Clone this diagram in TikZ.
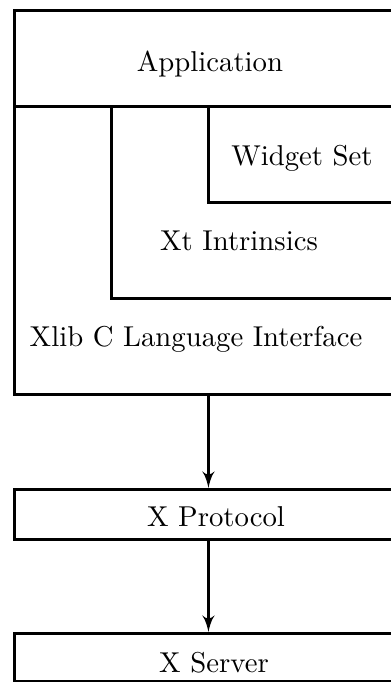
\documentclass[tikz,border=0pt]{standalone}
\usepackage{tikz}
\usetikzlibrary{arrows,positioning}
\newlength{\pxu}
\setlength{\pxu}{0.348pt}
\tikzstyle{layer}=[draw, line width=1pt, anchor=north west, inner sep=0pt]
\tikzstyle{lbl}=[inner sep=0pt, font=\normalsize]
\tikzstyle{line}=[draw, line width=1pt, -latex']

\begin{document}
\begin{tikzpicture}[x=0.348pt, y=-0.348pt]
	\clip (0,0) rectangle (391,682);

	% Draw the stacked layers
	\node[layer, minimum width=388\pxu, minimum height=96\pxu] (app) at (13,9) {};
	\node[layer, minimum width=388\pxu, minimum height=288\pxu] (xlib) at (13,105) {};
	\node[layer, minimum width=291\pxu, minimum height=192\pxu] (xt) at (110,105) {};
	\node[layer, minimum width=194\pxu, minimum height=96\pxu] (widget) at (207,105) {};
	\node[layer, minimum width=388\pxu, minimum height=50\pxu] (proto) at (13,488) {};
	\node[layer, minimum width=388\pxu, minimum height=48\pxu] (server) at (13,632) {};

	% Labels
	\node[lbl] (appLbl) at (210,64) {Application};
	\node[lbl] (widgetLbl) at (302,158) {Widget Set};
	\node[lbl] (xtLbl) at (239,241) {Xt Intrinsics};
	\node[lbl] (xlibLbl) at (196,339) {Xlib C Language Interface};
	\node[lbl] (protoLbl) at (216,517) {X Protocol};
	\node[lbl] (serverLbl) at (214,663) {X Server};

	% Draw arrows between layers
	\path [line] (xlib.south) -- (proto.north);
	\path [line] (proto.south) -- (server.north);
\end{tikzpicture}
\end{document}
